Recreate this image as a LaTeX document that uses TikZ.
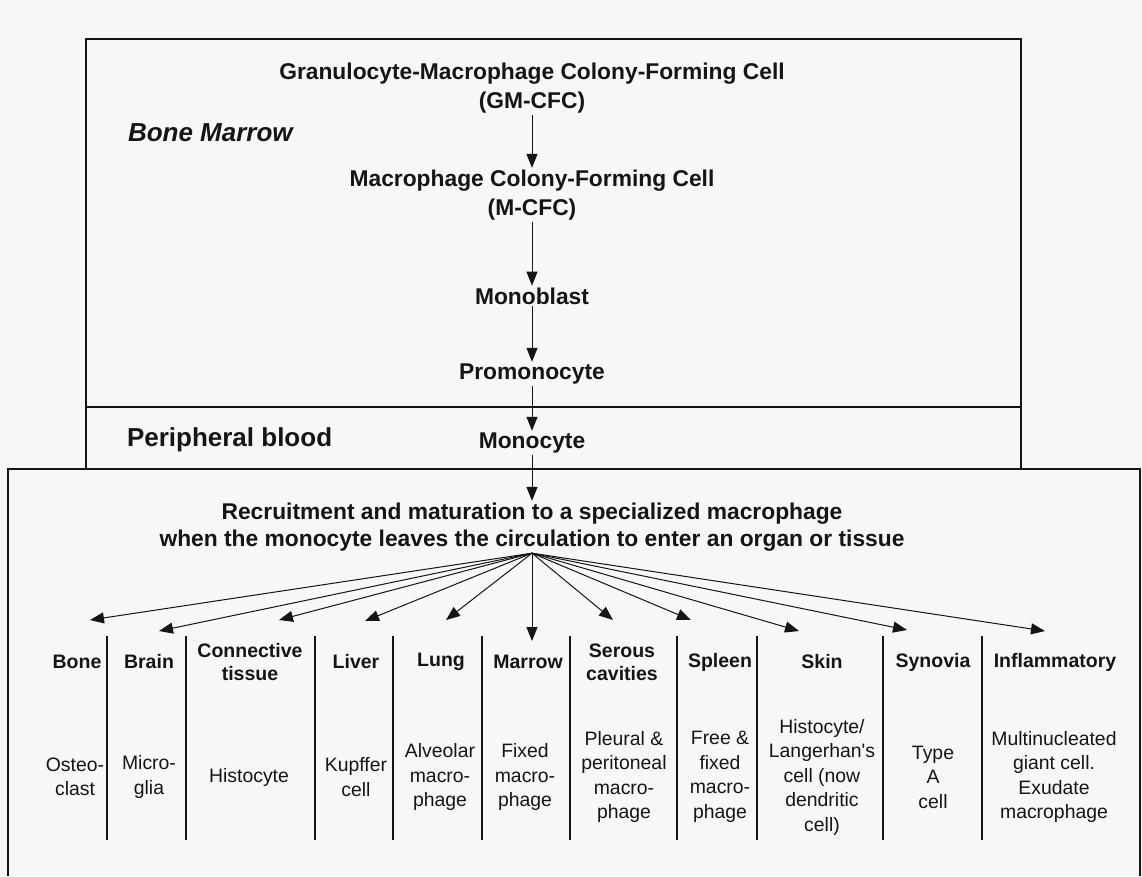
\documentclass[tikz,border=0pt]{standalone}
\usepackage{fontspec}
\setmainfont{Liberation Sans}
\usetikzlibrary{arrows.meta}
\definecolor{bg}{HTML}{F7F7F7}
\definecolor{ink}{HTML}{151515}
\begin{document}
\begin{tikzpicture}[x=1pt,y=-1pt,
  every node/.style={text=ink, inner sep=2pt, outer sep=0pt},
  big/.style={font=\fontsize{22.8}{29}\selectfont\bfseries, align=center},
  region/.style={font=\fontsize{26}{30}\selectfont\bfseries, anchor=west, inner sep=0pt},
  hdr/.style={font=\fontsize{19.5}{23}\selectfont\bfseries, align=center},
  body/.style={font=\fontsize{19.4}{24.5}\selectfont, align=center},
  arr/.style={draw=ink, line width=1pt, -{Triangle[length=14pt,width=11pt]}},
  frame/.style={draw=ink, line width=1.5pt},
  divider/.style={draw=ink, line width=1.3pt},
]
\useasboundingbox (0,0) rectangle (1142,876);
\fill[bg] (0,0) rectangle (1142,876);

% frames
\draw[frame] (86,469) -- (86,39) -- (1021,39) -- (1021,469);
\draw[frame] (86,407) -- (1021,407);
\draw[frame] (8,876) -- (8,469) -- (1140,469) -- (1140,876);

% region labels
\node[region] (bm) at (128,133) {\itshape Bone Marrow};
\node[region] (pb) at (127,440) {Peripheral blood};

% lineage chain
\node[big] (gm) at (532,88) {Granulocyte-Macrophage Colony-Forming Cell\\(GM-CFC)};
\node[big] (mcfc) at (532,195) {Macrophage Colony-Forming Cell\\(M-CFC)};
\node[big] (mono) at (532,296) {Monoblast};
\node[big] (promono) at (532,374) {Promonocyte};
\node[big] (monocyte) at (532,443) {Monocyte};
\node[big, font=\fontsize{22.8}{27}\selectfont\bfseries] (recruit) at (532,527)
  {Recruitment and maturation to a specialized macrophage\\when the monocyte leaves the circulation to enter an organ or tissue};

\draw[arr] (gm) -- (mcfc);
\draw[arr] (mcfc) -- (mono);
\draw[arr] (mono) -- (promono);
\draw[arr] (promono) -- (monocyte);
\draw[arr] (monocyte) -- (recruit);

% fan targets
\coordinate (fan) at (recruit.south);
\coordinate (tBone) at (90,620);
\coordinate (tBrain) at (159,631);
\coordinate (tConn) at (279,620);
\coordinate (tLiver) at (365,621);
\coordinate (tLung) at (446,620);
\coordinate (tMarrow) at (532,641);
\coordinate (tSerous) at (613,620);
\coordinate (tSpleen) at (691,620);
\coordinate (tSkin) at (799,631);
\coordinate (tSyn) at (907,630);
\coordinate (tInfl) at (1045,631);
\foreach \t in {tBone,tBrain,tConn,tLiver,tLung,tMarrow,tSerous,tSpleen,tSkin,tSyn,tInfl}
  \draw[arr] (fan) -- (\t);

% column dividers
\foreach \x in {107,186,315,393,482,570,677,757,883,982}
  \draw[divider] (\x,636) -- (\x,840);

% headers
\node[hdr] (hBone) at (77,662) {Bone};
\node[hdr] (hBrain) at (149,662) {Brain};
\node[hdr] (hConn) at (250,662) {Connective\\tissue};
\node[hdr] (hLiver) at (356,662) {Liver};
\node[hdr] (hLung) at (441,662) {Lung};
\node[hdr] (hMarrow) at (528,662) {Marrow};
\node[hdr] (hSerous) at (622,662) {Serous\\cavities};
\node[hdr] (hSpleen) at (720,662) {Spleen};
\node[hdr] (hSkin) at (822,662) {Skin};
\node[hdr] (hSyn) at (933,662) {Synovia};
\node[hdr] (hInfl) at (1055,662) {Inflammatory};

% bodies
\node[body] (bBone) at (75,777) {Osteo-\\clast};
\node[body] (bBrain) at (149,777) {Micro-\\glia};
\node[body] (bConn) at (249,777) {Histocyte};
\node[body] (bLiver) at (356,777) {Kupffer\\cell};
\node[body] (bLung) at (440,777) {Alveolar\\macro-\\phage};
\node[body] (bMarrow) at (525,777) {Fixed\\macro-\\phage};
\node[body] (bSerous) at (624,777) {Pleural \&\\peritoneal\\macro-\\phage};
\node[body] (bSpleen) at (720,777) {Free \&\\fixed\\macro-\\phage};
\node[body] (bSkin) at (822,777) {Histocyte/\\Langerhan\textquotesingle s\\cell (now\\dendritic\\cell)};
\node[body] (bSyn) at (933,777) {Type\\A\\cell};
\node[body] (bInfl) at (1054,777) {Multinucleated\\giant cell.\\Exudate\\macrophage};
\end{tikzpicture}
\end{document}
